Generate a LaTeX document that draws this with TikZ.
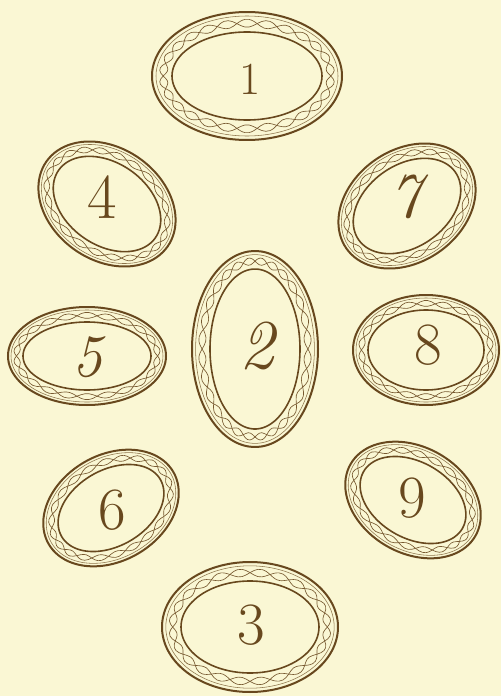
\documentclass[tikz,border=0pt]{standalone}
\definecolor{paper}{RGB}{250,247,212}
\definecolor{ink}{RGB}{104,72,30}
\tikzset{
  outerline/.style={draw=ink, line width=2pt},
  innerline/.style={draw=ink, line width=1.6pt},
  thinline/.style={draw=ink!75!paper, line width=0.55pt},
  braidline/.style={draw=ink!90!paper, line width=0.65pt},
  digit/.style={text=ink, inner sep=0pt, font=\fontsize{60}{60}\selectfont},
}
% #1 cx, #2 cy, #3 a, #4 b, #5 phi, #6 ring width, #7 waves
\newcommand{\medal}[7]{%
  \pgfmathsetmacro\ra{#3}\pgfmathsetmacro\rb{#4}%
  \draw[outerline] plot[smooth cycle, samples=90, domain=0:356]
    ({#1+(\ra*cos(\x))*cos(#5)-(\rb*sin(\x))*sin(#5)},{#2+(\ra*cos(\x))*sin(#5)+(\rb*sin(\x))*cos(#5)});
  \pgfmathsetmacro\ra{#3-#6}\pgfmathsetmacro\rb{#4-#6}%
  \draw[innerline] plot[smooth cycle, samples=90, domain=0:356]
    ({#1+(\ra*cos(\x))*cos(#5)-(\rb*sin(\x))*sin(#5)},{#2+(\ra*cos(\x))*sin(#5)+(\rb*sin(\x))*cos(#5)});
  \pgfmathsetmacro\ra{#3-0.2*#6}\pgfmathsetmacro\rb{#4-0.2*#6}%
  \draw[thinline] plot[smooth cycle, samples=90, domain=0:356]
    ({#1+(\ra*cos(\x))*cos(#5)-(\rb*sin(\x))*sin(#5)},{#2+(\ra*cos(\x))*sin(#5)+(\rb*sin(\x))*cos(#5)});
  \pgfmathtruncatemacro\ns{10*#7}\pgfmathsetmacro\de{360-360/\ns}%
  \pgfmathsetmacro\ra{#3-0.56*#6}\pgfmathsetmacro\rb{#4-0.56*#6}\pgfmathsetmacro\dd{0.2*#6}%
  \draw[braidline] plot[smooth cycle, samples=\ns, domain=0:\de]
    ({#1+((\ra+\dd*sin(#7*\x))*cos(\x))*cos(#5)-((\rb+\dd*sin(#7*\x))*sin(\x))*sin(#5)},
     {#2+((\ra+\dd*sin(#7*\x))*cos(\x))*sin(#5)+((\rb+\dd*sin(#7*\x))*sin(\x))*cos(#5)});
  \draw[braidline] plot[smooth cycle, samples=\ns, domain=0:\de]
    ({#1+((\ra-\dd*sin(#7*\x))*cos(\x))*cos(#5)-((\rb-\dd*sin(#7*\x))*sin(\x))*sin(#5)},
     {#2+((\ra-\dd*sin(#7*\x))*cos(\x))*sin(#5)+((\rb-\dd*sin(#7*\x))*sin(\x))*cos(#5)});
}
\begin{document}
\begin{tikzpicture}[x=1pt,y=-1pt]
  \fill[paper] (0,0) rectangle (501,696);
  \useasboundingbox (0,0) rectangle (501,696);
  % rings
  \medal{247}{76}{95}{64}{0}{20}{13}
  \medal{255}{349}{63}{98}{0}{18}{14}
  \medal{250}{627}{88}{65}{0}{19}{12}
  \medal{107}{204}{74}{56}{35}{15}{11}
  \medal{407}{206}{74}{56}{-35}{15}{11}
  \medal{87}{356}{79}{49}{0}{15}{11}
  \medal{426}{350}{73}{55}{0}{15}{11}
  \medal{111}{508}{72}{53}{-30}{15}{11}
  \medal{413}{500}{72}{53}{30}{15}{11}
  % numbers
  \node[digit, font=\fontsize{46}{46}\selectfont] (n1) at (250,79) {1};
  \node[digit, font=\fontsize{70}{70}\selectfont\itshape] (n2) at (257,346) {2};
  \node[digit] (n3) at (251,625) {3};
  \node[digit, font=\fontsize{64}{64}\selectfont] (n4) at (102,197) {4};
  \node[digit, font=\fontsize{60}{60}\selectfont\itshape] (n5) at (87,357) {5};
  \node[digit] (n6) at (112,510) {6};
  \node[digit, font=\fontsize{64}{64}\selectfont\itshape] (n7) at (405,197) {7};
  \node[digit] (n8) at (428,345) {8};
  \node[digit] (n9) at (412,498) {9};
\end{tikzpicture}
\end{document}
